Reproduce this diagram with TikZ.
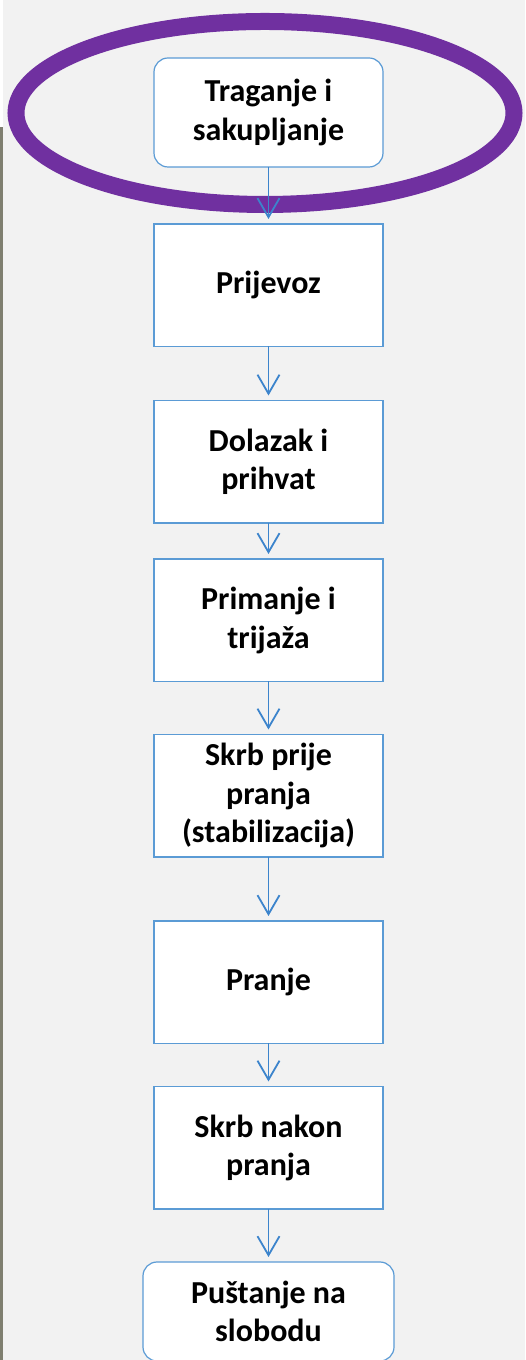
\documentclass[tikz,border=0pt]{standalone}
\usepackage{fontspec}
\setmainfont{Carlito}
\usetikzlibrary{arrows.meta, positioning, shapes.geometric}
\definecolor{pagebg}{HTML}{F2F2F2}
\definecolor{boxline}{HTML}{5B9BD5}
\definecolor{arrowblue}{HTML}{3C84CC}
\definecolor{ringpurple}{HTML}{7030A0}
\definecolor{sidebar}{HTML}{7F7F70}

\begin{document}
\begin{tikzpicture}[
    x=1pt, y=1pt,
    stage/.style={draw=boxline, line width=1.2pt, fill=white, minimum width=229pt, minimum height=122.5pt, align=center, inner sep=2pt, outer sep=0pt, font=\fontsize{32}{38.5}\selectfont\bfseries},
    endstage/.style={stage, rounded corners=14pt},
    ring/.style={draw=ringpurple, line width=17pt, ellipse, minimum width=498pt, minimum height=183pt, inner sep=0pt},
    arr/.style={-{Straight Barb[length=19pt, width=22pt]}, draw=arrowblue, line width=1.8pt, shorten >=5pt}
]
\fill[pagebg] (0,0) rectangle (525,1360);
\useasboundingbox (0,0) rectangle (525,1360);
\fill[sidebar] (0,0) rectangle (3,1233);
\fill[white] (0,1233) rectangle (3,1360);

\node[endstage, minimum height=109pt] (collect) at (268.5,1247.5) {Traganje i\\sakupljanje};
\node[stage, below=57pt of collect] (transport) {Prijevoz};
\node[stage, below=54pt of transport] (arrival) {Dolazak i\\prihvat};
\node[stage, below=36pt of arrival] (triage) {Primanje i\\trijaža};
\node[stage, below=53pt of triage] (prewash) {Skrb prije\\pranja\\(stabilizacija)};
\node[stage, below=64pt of prewash] (washing) {Pranje};
\node[stage, below=43pt of washing] (postwash) {Skrb nakon\\pranja};
\node[endstage, below=53pt of postwash, minimum width=251pt, minimum height=99pt] (release) {Puštanje na\\slobodu};

% highlight round the first stage
\node[ring] (mark) at (265,1247) {};

\foreach \a/\b in {collect/transport, transport/arrival, arrival/triage, triage/prewash, prewash/washing, washing/postwash, postwash/release} \draw[arr] (\a) -- (\b);
\end{tikzpicture}
\end{document}
